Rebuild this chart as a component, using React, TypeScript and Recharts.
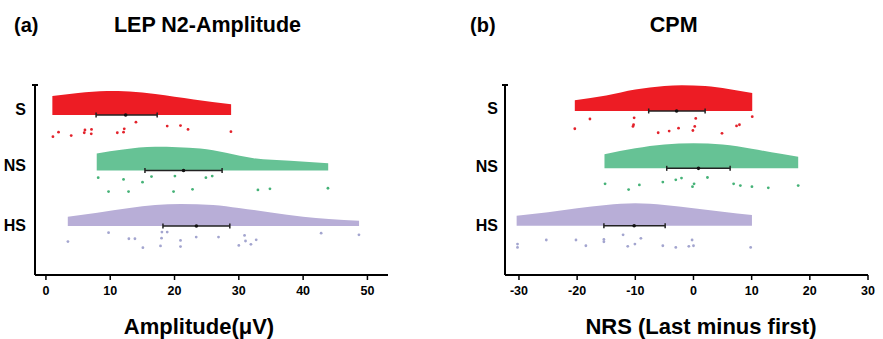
import { ComposedChart, Area, Scatter, ErrorBar, XAxis, YAxis } from "recharts"

const FONT = '"Liberation Sans", Arial, sans-serif'

const groups = ["S", "NS", "HS"]
const rows = [3, 2, 1]
const fillColors = ["#ED1C24", "#66C295", "#B8AED7"]
const dotColors = ["#E3222B", "#45B277", "#A3A5CF"]

// (a) LEP N2-Amplitude
const lepTicks = [0, 10, 20, 30, 40, 50]
const lepDensX = [
  [1, 5, 9.5, 13, 17, 23, 28.8],
  [7.9, 12, 17, 24, 28, 32.3, 38, 43.9],
  [3.4, 8, 13, 17, 21, 26, 30, 35, 40, 44, 48.7],
]
const lepDens = [
  [19, 22, 24, 23.5, 21, 15.5, 10.7],
  [17, 21, 23.7, 22, 17.8, 12.3, 9.7, 7.3],
  [9.3, 13.2, 18, 21, 22, 21, 18, 13.6, 9.3, 7, 5.3],
]
const lepMean = [12.4, 21.4, 23.4]
const lepLow = [7.8, 15.4, 18.2]
const lepHigh = [17.3, 27.4, 28.6]
const lepValues = [
  [1.09, 1.96, 3.93, 5.96, 6.07, 7.09, 7.05, 11.1, 12.07, 12.18, 14.0, 18.86, 20.93, 22.1, 28.77],
  [8.13, 9.74, 12.07, 12.85, 15.02, 16.42, 19.85, 20.06, 22.8, 24.88, 25.86, 32.97, 34.84, 43.86],
  [3.42, 9.74, 12.9, 13.84, 15.08, 17.82, 17.98, 18.04, 18.86, 20.93, 20.93, 23.37, 26.84, 30.0, 30.89, 31.04, 31.88, 32.7, 42.8, 48.68],
]
const lepJitter = [
  [0.39, 0.31, 0.37, 0.32, 0.27, 0.26, 0.34, 0.32, 0.31, 0.25, 0.13, 0.2, 0.19, 0.26, 0.3],
  [0.13, 0.38, 0.16, 0.38, 0.21, 0.11, 0.38, 0.1, 0.34, 0.13, 0.1, 0.35, 0.33, 0.32],
  [0.28, 0.12, 0.23, 0.23, 0.39, 0.36, 0.22, 0.11, 0.11, 0.26, 0.37, 0.2, 0.2, 0.35, 0.17, 0.27, 0.33, 0.25, 0.13, 0.16],
]

// (b) CPM
const cpmTicks = [-30, -20, -10, 0, 10, 20, 30]
const cpmDensX = [
  [-20.4, -15, -10, -5, -2, 2, 6, 10.1],
  [-15.3, -10, -5, 0, 5, 10, 15, 18],
  [-30.4, -25, -20, -15, -10, -5, 0, 5, 10.05],
]
const cpmDens = [
  [10.7, 15.5, 21.4, 25, 25.7, 25, 22, 18],
  [14, 20, 23.8, 25, 23.8, 19.5, 14.5, 11.6],
  [10, 13.4, 17.5, 20.8, 22.4, 20.8, 17.5, 13.9, 10.7],
]
const cpmMean = [-2.9, 0.86, -10.2]
const cpmLow = [-7.7, -4.6, -15.4]
const cpmHigh = [2.0, 6.3, -4.87]
const cpmValues = [
  [-20.4, -17.8, -10.2, -10.3, -10.4, -6.07, -4.18, -2.57, -0.1, 0.22, 0.39, 4.9, 7.4, 7.9, 10.1],
  [-15.2, -11.15, -9.3, -5.27, -3.04, -2.06, -0.17, 0.1, 2.4, 6.9, 8.06, 10.05, 12.86, 18.0],
  [-30.25, -30.25, -25.3, -20.2, -18.5, -15.4, -15.4, -12.1, -11.3, -10.07, -9.04, -5.27, -3.04, -0.8, -0.24, 0.0, 9.83],
]
const cpmJitter = [
  [0.31, 0.14, 0.12, 0.24, 0.27, 0.38, 0.35, 0.3, 0.34, 0.27, 0.13, 0.39, 0.26, 0.24, 0.1],
  [0.27, 0.37, 0.29, 0.24, 0.2, 0.17, 0.32, 0.27, 0.16, 0.27, 0.3, 0.32, 0.34, 0.3],
  [0.32, 0.38, 0.25, 0.25, 0.35, 0.24, 0.28, 0.16, 0.36, 0.32, 0.22, 0.35, 0.38, 0.36, 0.25, 0.35, 0.38],
]

const PLOT_H = 190

type PanelProps = {
  left: number
  width: number
  margin: { top: number; right: number; bottom: number; left: number }
  xDomain: [number, number]
  yDomain: [number, number]
  xTicks: number[]
  labelRows: number[]
  labelGap: number
  densX: number[][]
  dens: number[][]
  mean: number[]
  low: number[]
  high: number[]
  values: number[][]
  jitter: number[][]
}

function Panel(p: PanelProps) {
  const ppu = PLOT_H / (p.yDomain[1] - p.yDomain[0])
  const yTicks = [...p.labelRows, p.yDomain[1]]

  const renderTick = (props: any) => {
    const { x, y, payload } = props
    const idx = p.labelRows.indexOf(payload.value)
    if (idx < 0) {
      return <line x1={x - 3} x2={x + 3} y1={y} y2={y} stroke="#000" strokeWidth={2} />
    }
    return (
      <text
        x={x - p.labelGap}
        y={y}
        dy="0.36em"
        textAnchor="end"
        fontFamily={FONT}
        fontWeight={700}
        fontSize={16}
        fill="#000"
      >
        {groups[idx]}
      </text>
    )
  }

  return (
    <div style={{ position: "absolute", left: p.left, top: 0 }}>
      <ComposedChart width={p.width} height={339} margin={p.margin}>
        <XAxis
          type="number"
          dataKey="x"
          domain={p.xDomain}
          ticks={p.xTicks}
          interval={0}
          allowDataOverflow
          height={30}
          tickSize={5}
          tickMargin={6}
          axisLine={{ stroke: "#000", strokeWidth: 2 }}
          tickLine={{ stroke: "#000", strokeWidth: 1.5 }}
          tick={{ fill: "#000", fontSize: 12.5, fontWeight: 700, fontFamily: FONT }}
        />
        <YAxis
          type="number"
          dataKey="y"
          domain={p.yDomain}
          ticks={yTicks}
          interval={0}
          allowDataOverflow
          width={30}
          tickSize={0}
          tickMargin={0}
          tickLine={false}
          axisLine={{ stroke: "#000", strokeWidth: 2 }}
          tick={renderTick}
        />
        {groups.map((g, i) => (
          <Area
            key={"v" + g}
            data={p.densX[i].map((x, j) => ({ x, top: rows[i] + p.dens[i][j] / ppu }))}
            dataKey="top"
            baseValue={rows[i]}
            type="monotone"
            stroke="none"
            fill={fillColors[i]}
            fillOpacity={1}
            isAnimationActive={false}
          />
        ))}
        {groups.map((g, i) => (
          <Scatter
            key={"p" + g}
            data={p.values[i].map((v, j) => ({ x: v, y: rows[i] - p.jitter[i][j] }))}
            isAnimationActive={false}
            shape={(s: any) => <circle cx={s.cx} cy={s.cy} r={1.4} fill={dotColors[i]} />}
          />
        ))}
        {groups.map((g, i) => (
          <Scatter
            key={"e" + g}
            data={[{ x: p.mean[i], y: rows[i], err: [p.mean[i] - p.low[i], p.high[i] - p.mean[i]] }]}
            isAnimationActive={false}
            shape={(s: any) => <circle cx={s.cx} cy={s.cy} r={1.8} fill="#111" />}
          >
            <ErrorBar dataKey="err" direction="x" width={2.5} stroke="#222" strokeWidth={1.5} />
          </Scatter>
        ))}
      </ComposedChart>
    </div>
  )
}

export default function App() {
  return (
    <div style={{ position: "absolute", left: 0, top: 0, width: 883, height: 339, background: "#fff" }}>
      <Panel
        left={0}
        width={440}
        margin={{ top: 85, right: 52, bottom: 34, left: 5 }}
        xDomain={[-1.7, 53.2]}
        yDomain={[0.117, 3.5405]}
        xTicks={lepTicks}
        labelRows={[3.103, 2.099, 1.018]}
        labelGap={9}
        densX={lepDensX}
        dens={lepDens}
        mean={lepMean}
        low={lepLow}
        high={lepHigh}
        values={lepValues}
        jitter={lepJitter}
      />
      <Panel
        left={440}
        width={443}
        margin={{ top: 85, right: 15, bottom: 34, left: 35 }}
        xDomain={[-32.4, 30]}
        yDomain={[0.14, 3.453]}
        xTicks={cpmTicks}
        labelRows={[3.047, 2.041, 1.012]}
        labelGap={7}
        densX={cpmDensX}
        dens={cpmDens}
        mean={cpmMean}
        low={cpmLow}
        high={cpmHigh}
        values={cpmValues}
        jitter={cpmJitter}
      />
      <svg
        width={883}
        height={339}
        style={{ position: "absolute", left: 0, top: 0, pointerEvents: "none" }}
        fontFamily={FONT}
        fontWeight={700}
        fill="#000"
      >
        <text x={14} y={32} fontSize={20}>(a)</text>
        <text x={207.5} y={32} fontSize={21.5} textAnchor="middle">LEP N2-Amplitude</text>
        <text x={470} y={32} fontSize={20}>(b)</text>
        <text x={673.7} y={32} fontSize={21.5} textAnchor="middle">CPM</text>
        <text x={199} y={334} fontSize={22} textAnchor="middle">Amplitude(μV)</text>
        <text x={701} y={334} fontSize={22} textAnchor="middle">NRS (Last minus first)</text>
      </svg>
    </div>
  )
}
